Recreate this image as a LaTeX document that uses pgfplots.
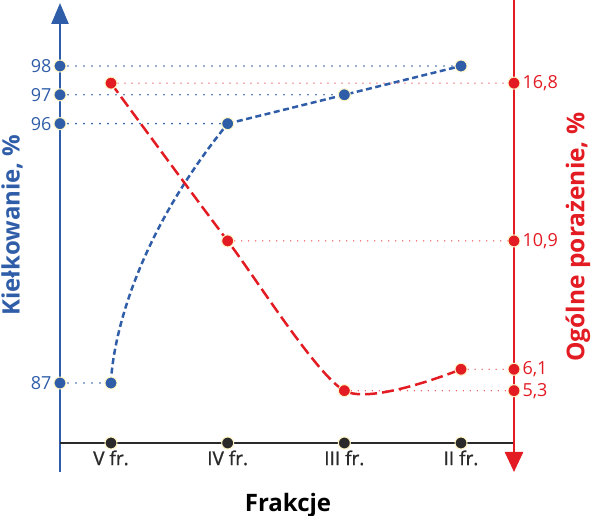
\documentclass[border=0pt]{standalone}
\usepackage{pgfplots}
\pgfplotsset{compat=1.18}
\usepackage{fontspec}
\setmainfont{Open Sans}
\usetikzlibrary{arrows.meta}

\definecolor{cblue}{HTML}{2F5DA8}
\definecolor{cred}{HTML}{E31B23}
\definecolor{cdark}{HTML}{2A2A2A}
\definecolor{ccream}{HTML}{FFF4C2}

\begin{document}
\begin{tikzpicture}
\useasboundingbox (-60pt,-73pt) rectangle (540pt,443pt);
\pgfplotsset{
  base/.style={
    at={(0pt,0pt)}, anchor=south west,
    width=454pt, height=440pt, scale only axis,
    xmin=0.563, xmax=4.454, clip=false,
    axis line style={draw=none}, major tick length=0pt,
  },
}

% first blue segment, clipped at IV fr. so that it can bend harder
\begin{axis}[base, width=167.7pt, xmin=0.563, xmax=2, clip=true, hide axis,
  ymin=84.919, ymax=100.186]
\addplot[cblue, line width=2.5pt, dash pattern=on 6pt off 3.5pt, smooth, tension=1.8]
  coordinates {(1,87) (2,96) (3,97)};
\end{axis}

% blue axis: germination
\begin{axis}[base,
  ymin=84.919, ymax=100.186,
  axis x line*=bottom, axis y line*=left,
  xtick={1,2,3,4}, xticklabels={V fr., IV fr., III fr., II fr.},
  xticklabel style={text=cdark, font=\addfontfeature{FakeBold=1.2}\fontsize{19}{19}\selectfont, yshift=-4pt},
  ytick={87,96,97,98}, yticklabels={87,96,97,98},
  yticklabel style={text=cblue, font=\fontsize{18}{18}\selectfont, xshift=-5pt},
]
\addplot[cblue, line width=1.8pt, line cap=round, dash pattern=on 0pt off 8pt] coordinates {(0.563,98) (4,98)};
\addplot[cblue, line width=1.8pt, line cap=round, dash pattern=on 0pt off 8pt] coordinates {(0.563,97) (3,97)};
\addplot[cblue, line width=1.8pt, line cap=round, dash pattern=on 0pt off 8pt] coordinates {(0.563,96) (2,96)};
\addplot[cblue, line width=1.8pt, line cap=round, dash pattern=on 0pt off 8pt] coordinates {(0.563,87) (1,87)};
\draw[cblue, line width=2.5pt, -{Triangle[length=21pt,width=17pt]}]
  ([yshift=-29pt]rel axis cs:0,0) -- (rel axis cs:0,1);
\draw[cdark, line width=2.5pt] (rel axis cs:0,0) -- (rel axis cs:1,0);
\addplot[only marks, mark=*, mark size=6pt, mark options={solid, draw=ccream, line width=1pt, fill=cdark}]
  coordinates {(1,84.919) (2,84.919) (3,84.919) (4,84.919)};
\addplot[only marks, mark=*, mark size=6pt, mark options={solid, draw=ccream, line width=1pt, fill=cblue}]
  coordinates {(0.563,87) (0.563,96) (0.563,97) (0.563,98)};
\addplot[cblue, line width=2.5pt, dash pattern=on 6pt off 3.5pt, smooth, tension=0.55]
  coordinates {(2,96) (3,97) (4,98)};
\addplot[only marks, mark=*, mark size=6pt, mark options={solid, draw=ccream, line width=1pt, fill=cblue}]
  coordinates {(1,87) (2,96) (3,97) (4,98)};
\end{axis}

% red axis: total infection
\begin{axis}[base,
  ymin=3.343, ymax=19.797,
  axis x line=none, axis y line*=right,
  ytick={5.3,6.1,10.9,16.8}, yticklabels={{5,3},{6,1},{10,9},{16,8}},
  yticklabel style={text=cred, font=\fontsize{18}{18}\selectfont, xshift=5pt},
]
\addplot[cred!75, line width=1.5pt, line cap=round, dash pattern=on 0pt off 7pt] coordinates {(1,16.8) (4.454,16.8)};
\addplot[cred!75, line width=1.5pt, line cap=round, dash pattern=on 0pt off 7pt] coordinates {(2,10.9) (4.454,10.9)};
\addplot[cred!75, line width=1.5pt, line cap=round, dash pattern=on 0pt off 7pt] coordinates {(4,6.1) (4.454,6.1)};
\addplot[cred!75, line width=1.5pt, line cap=round, dash pattern=on 0pt off 7pt] coordinates {(3,5.3) (4.454,5.3)};
\draw[cred, line width=2.5pt, -{Triangle[length=20pt,width=18pt]}]
  ([yshift=3pt]rel axis cs:1,1) -- ([yshift=-29pt]rel axis cs:1,0);
\addplot[only marks, mark=*, mark size=6pt, mark options={solid, draw=ccream, line width=1pt, fill=cred}]
  coordinates {(4.454,5.3) (4.454,6.1) (4.454,10.9) (4.454,16.8)};
\addplot[cred, line width=2.5pt, dash pattern=on 12pt off 5pt, smooth, tension=0.42]
  coordinates {(1,16.8) (2,10.9) (3,5.3) (4,6.1)};
\addplot[only marks, mark=*, mark size=6pt, mark options={solid, draw=ccream, line width=1pt, fill=cred}]
  coordinates {(1,16.8) (2,10.9) (3,5.3) (4,6.1)};
\end{axis}

\node[rotate=90, text=cblue, font=\bfseries\fontsize{24}{24}\selectfont] at (-48pt,218pt) {Kiełkowanie, \%};
\node[rotate=90, text=cred, font=\bfseries\fontsize{24.5}{24.5}\selectfont] at (518pt,206pt) {Ogólne porażenie, \%};
\node[text=black, font=\bfseries\fontsize{24}{24}\selectfont] at (228pt,-62pt) {Frakcje};
\end{tikzpicture}
\end{document}
